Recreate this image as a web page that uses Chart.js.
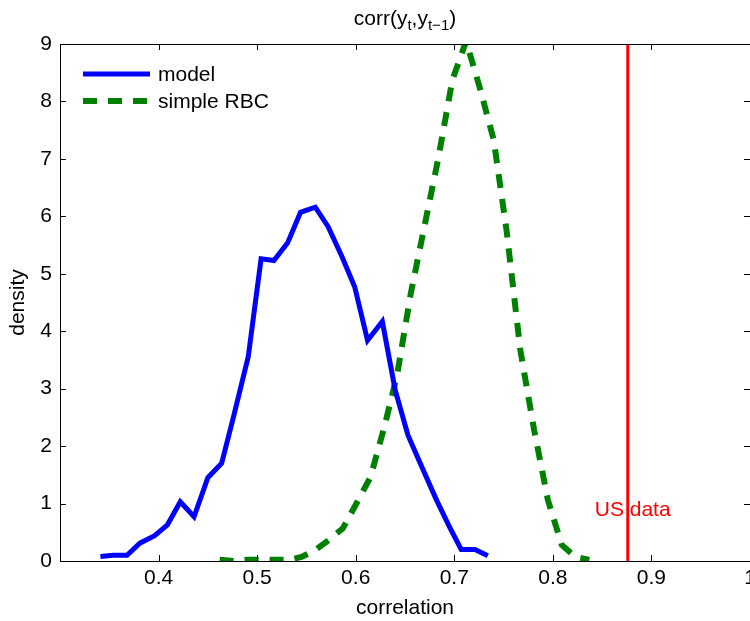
<!DOCTYPE html>
<html>
<head>
<meta charset="utf-8">
<script src="https://cdn.jsdelivr.net/npm/chart.js@4.4.1/dist/chart.umd.min.js"></script>
<style>
  html, body { margin: 0; padding: 0; background: #fff; overflow: hidden; }
  #wrap { width: 750px; height: 621px; overflow: hidden; }
</style>
</head>
<body>
<div id="wrap"><canvas id="myChart" width="790" height="621"></canvas></div>
<script>
// model density
const xModel = [0.341, 0.354, 0.368, 0.381, 0.396, 0.409, 0.422, 0.436, 0.450, 0.464, 0.476, 0.491, 0.504, 0.517, 0.531, 0.544, 0.559, 0.572, 0.586, 0.599, 0.612, 0.627, 0.640, 0.653, 0.667, 0.682, 0.695, 0.707, 0.721, 0.734]
const yModel = [0.08, 0.10, 0.10, 0.31, 0.44, 0.63, 1.03, 0.77, 1.45, 1.70, 2.51, 3.56, 5.26, 5.23, 5.54, 6.07, 6.16, 5.82, 5.30, 4.77, 3.84, 4.17, 2.98, 2.19, 1.64, 1.06, 0.60, 0.20, 0.20, 0.09]
// simple RBC density
const xRbc = [0.462, 0.476, 0.490, 0.504, 0.518, 0.532, 0.545, 0.559, 0.573, 0.587, 0.601, 0.615, 0.629, 0.642, 0.656, 0.670, 0.684, 0.698, 0.712, 0.726, 0.740, 0.753, 0.767, 0.781, 0.795, 0.809, 0.823, 0.837]
const yRbc = [0.02, 0.00, 0.02, 0.02, 0.02, 0.02, 0.07, 0.19, 0.37, 0.57, 1.01, 1.46, 2.33, 3.24, 4.67, 5.85, 7.03, 8.37, 9.05, 8.23, 7.33, 5.76, 3.67, 2.28, 1.06, 0.28, 0.07, 0.02]
const usData = 0.876
const xTicks = [0.4, 0.5, 0.6, 0.7, 0.8, 0.9, 1]
const yTicks = [0, 1, 2, 3, 4, 5, 6, 7, 8, 9]

const FONT = 'Liberation Sans, Arial, Helvetica, sans-serif'
const FS = 21

const data = {
    datasets: [{
        label: 'model',
        data: xModel.map((x, i) => ({ x: x, y: yModel[i] })),
        borderColor: '#0000ff',
        borderWidth: 5,
        pointRadius: 0,
        fill: false
    }, {
        label: 'simple RBC',
        data: xRbc.map((x, i) => ({ x: x, y: yRbc[i] })),
        borderColor: '#008000',
        borderWidth: 6,
        borderDash: [14, 11],
        pointRadius: 0,
        fill: false
    }, {
        label: 'US data',
        data: [{ x: usData, y: 0 }, { x: usData, y: 9 }],
        borderColor: '#ff0000',
        borderWidth: 3,
        pointRadius: 0,
        fill: false
    }]
}

// box, inward ticks, title, legend and text label
const decorations = {
    id: 'decorations',
    afterDraw(chart) {
        const ctx = chart.ctx
        const a = chart.chartArea
        const sx = chart.scales.x
        const sy = chart.scales.y
        ctx.save()
        ctx.strokeStyle = '#000'
        ctx.lineWidth = 1
        ctx.strokeRect(Math.round(a.left) + 0.5, Math.round(a.top) + 0.5, Math.round(a.right - a.left), Math.round(a.bottom - a.top))
        ctx.beginPath()
        xTicks.forEach((v) => {
            const px = Math.round(sx.getPixelForValue(v)) + 0.5
            ctx.moveTo(px, a.bottom); ctx.lineTo(px, a.bottom - 6)
            ctx.moveTo(px, a.top); ctx.lineTo(px, a.top + 6)
        })
        yTicks.forEach((v) => {
            const py = Math.round(sy.getPixelForValue(v)) + 0.5
            ctx.moveTo(a.left, py); ctx.lineTo(a.left + 6, py)
            ctx.moveTo(a.right, py); ctx.lineTo(a.right - 6, py)
        })
        ctx.stroke()

        // title corr(y_t, y_{t-1})
        const parts = [['corr(y', 0], ['t', 1], [',y', 0], ['t\u22121', 1], [')', 0]]
        const big = FS + 'px ' + FONT
        const small = '15px ' + FONT
        let w = 0
        parts.forEach((p) => { ctx.font = p[1] ? small : big; w += ctx.measureText(p[0]).width })
        let tx = (a.left + a.right) / 2 - w / 2
        ctx.fillStyle = '#000'
        ctx.textBaseline = 'alphabetic'
        ctx.textAlign = 'left'
        parts.forEach((p) => {
            ctx.font = p[1] ? small : big
            ctx.fillText(p[0], tx, p[1] ? 30 : 25)
            tx += ctx.measureText(p[0]).width
        })

        // legend
        ctx.font = big
        ctx.textBaseline = 'middle'
        chart.data.datasets.slice(0, 2).forEach((ds, i) => {
            const ly = 74 + i * 27
            ctx.strokeStyle = ds.borderColor
            ctx.lineWidth = ds.borderWidth
            ctx.setLineDash(ds.borderDash || [])
            ctx.beginPath()
            ctx.moveTo(83, ly); ctx.lineTo(150, ly)
            ctx.stroke()
            ctx.setLineDash([])
            ctx.fillStyle = '#000'
            ctx.fillText(ds.label, 158, ly + 1)
        })

        // US data label
        ctx.fillStyle = '#ff0000'
        ctx.font = FS + 'px ' + FONT
        ctx.fillText('US data', sx.getPixelForValue(0.8425), sy.getPixelForValue(0.89))
        ctx.restore()
    }
}

const config = {
    type: 'line',
    data: data,
    options: {
        responsive: false,
        animation: false,
        layout: { padding: { top: 44, right: 40, left: 0, bottom: 0 } },
        plugins: {
            legend: { display: false },
            tooltip: { enabled: false }
        },
        scales: {
            x: {
                type: 'linear',
                min: 0.3,
                max: 1,
                afterBuildTicks: (scale) => { scale.ticks = xTicks.map((v) => ({ value: v })) },
                afterFit: (scale) => { scale.height = 60 },
                grid: { display: false, drawTicks: false },
                border: { display: false },
                ticks: {
                    color: '#000',
                    font: { size: FS, family: FONT },
                    padding: 5,
                    maxRotation: 0,
                    callback: (v) => v === 1 ? '1' : v.toFixed(1)
                },
                title: {
                    display: true,
                    text: 'correlation',
                    color: '#000',
                    font: { size: FS, family: FONT },
                    padding: { top: 7, bottom: 0 }
                }
            },
            y: {
                min: 0,
                max: 9,
                afterBuildTicks: (scale) => { scale.ticks = yTicks.map((v) => ({ value: v })) },
                afterFit: (scale) => { scale.width = 60 },
                grid: { display: false },
                border: { display: false },
                ticks: {
                    color: '#000',
                    font: { size: FS, family: FONT },
                    padding: 0
                },
                title: {
                    display: true,
                    text: 'density',
                    color: '#000',
                    font: { size: FS, family: FONT },
                    padding: { top: 6, bottom: 0 }
                }
            }
        }
    },
    plugins: [decorations]
}

const ctx = document.getElementById('myChart')

new Chart(ctx, config)
</script>
</body>
</html>
